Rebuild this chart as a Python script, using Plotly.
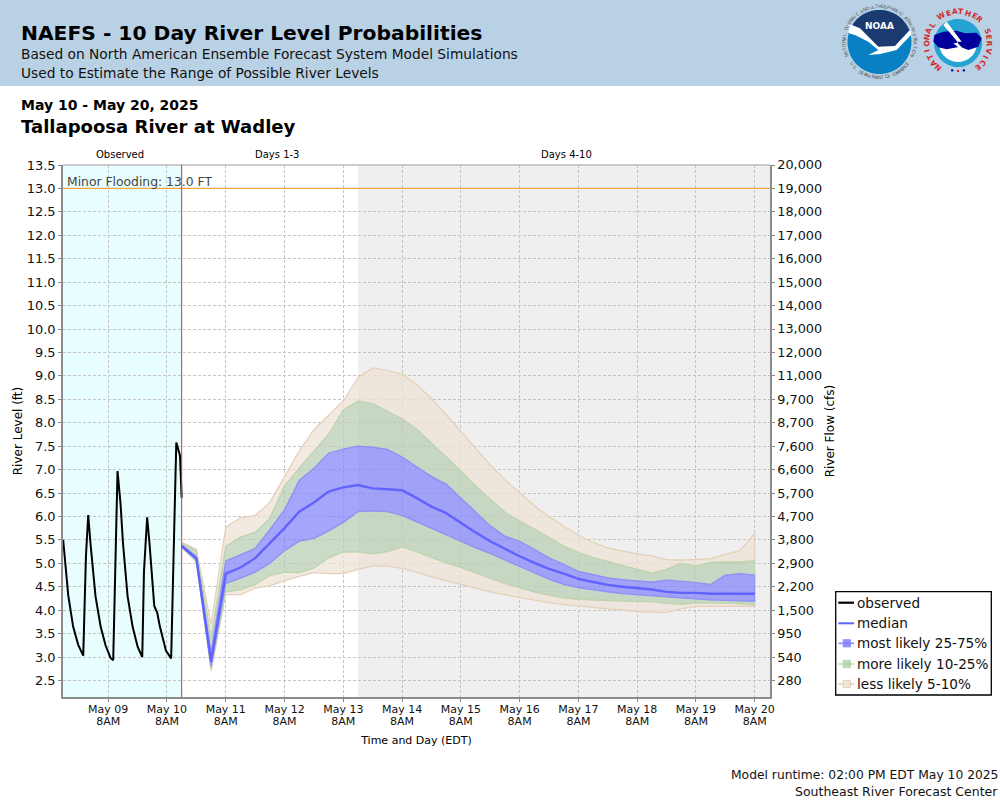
import math
import pandas as pd
import plotly.graph_objects as go

# ---------- data ----------
obs_times = ["2025-05-08 13:36","2025-05-08 15:40","2025-05-08 17:40","2025-05-08 19:45","2025-05-08 21:48",
             "2025-05-08 22:54","2025-05-08 23:50","2025-05-09 00:48","2025-05-09 02:48","2025-05-09 04:54",
             "2025-05-09 06:54","2025-05-09 08:57","2025-05-09 10:02","2025-05-09 11:00","2025-05-09 11:48",
             "2025-05-09 13:02","2025-05-09 14:00","2025-05-09 15:54","2025-05-09 17:57","2025-05-09 20:00",
             "2025-05-09 21:54","2025-05-09 22:36","2025-05-09 23:54","2025-05-10 00:54","2025-05-10 02:48",
             "2025-05-10 04:00","2025-05-10 05:06","2025-05-10 07:36","2025-05-10 09:42","2025-05-10 11:00",
             "2025-05-10 11:48","2025-05-10 13:18","2025-05-10 14:00"]
obs_level = [5.5,4.32,3.65,3.26,3.03,5.15,6.03,5.4,4.3,3.65,3.25,2.98,2.93,5.3,6.97,6.27,5.45,4.3,3.65,3.22,
             3.0,4.82,5.98,5.4,4.09,3.95,3.65,3.13,2.97,5.84,7.58,7.3,6.4]

fc_times = pd.date_range("2025-05-10 14:00", periods=40, freq="6h").strftime("%Y-%m-%d %H:%M").tolist()
p95 = [5.45,5.3,3.7,5.77,5.97,6.02,6.3,6.85,7.4,7.85,8.17,8.47,8.96,9.17,9.12,9.04,8.81,8.52,8.17,7.82,7.46,7.1,
       6.78,6.5,6.23,6.0,5.79,5.6,5.45,5.33,5.26,5.2,5.16,5.08,5.07,5.08,5.1,5.19,5.27,5.64]
p90 = [5.42,5.27,3.4,5.36,5.56,5.66,5.96,6.65,7.03,7.4,7.75,8.27,8.46,8.41,8.25,8.08,7.86,7.57,7.27,6.97,6.65,6.36,
       6.09,5.9,5.73,5.55,5.37,5.23,5.12,5.03,4.95,4.87,4.79,4.87,5.0,4.94,5.02,5.03,5.03,5.05]
p75 = [5.39,5.15,3.1,5.05,5.18,5.32,5.72,6.14,6.77,7.03,7.35,7.44,7.5,7.48,7.43,7.27,7.06,6.85,6.69,6.39,6.1,5.8,
       5.58,5.47,5.3,5.12,4.98,4.83,4.76,4.69,4.65,4.62,4.6,4.64,4.62,4.59,4.55,4.75,4.78,4.75]
p50 = [5.37,5.1,2.9,4.78,4.91,5.11,5.43,5.75,6.1,6.3,6.53,6.62,6.67,6.6,6.58,6.56,6.39,6.21,6.07,5.86,5.66,5.47,
       5.31,5.15,5.01,4.88,4.78,4.67,4.6,4.54,4.5,4.47,4.44,4.39,4.37,4.37,4.35,4.35,4.35,4.35]
p25 = [5.35,5.08,2.8,4.57,4.68,4.81,5.0,5.27,5.47,5.53,5.69,5.87,6.1,6.12,6.1,6.02,5.89,5.75,5.61,5.47,5.33,5.21,
       5.07,4.93,4.8,4.66,4.55,4.48,4.43,4.39,4.35,4.33,4.3,4.28,4.26,4.24,4.22,4.2,4.2,4.19]
p10 = [5.34,5.05,2.75,4.39,4.44,4.55,4.74,4.81,4.8,4.9,5.12,5.24,5.25,5.2,5.25,5.35,5.25,5.13,5.01,4.91,4.8,4.68,
       4.57,4.48,4.39,4.32,4.26,4.23,4.22,4.21,4.19,4.18,4.18,4.15,4.13,4.15,4.16,4.15,4.14,4.11]
p05 = [5.33,5.03,2.7,4.33,4.33,4.47,4.52,4.63,4.72,4.8,4.78,4.78,4.87,4.94,4.94,4.89,4.81,4.71,4.62,4.55,4.47,4.39,
       4.33,4.27,4.21,4.16,4.12,4.08,4.05,4.03,4.0,3.97,3.96,3.95,4.03,4.08,4.08,4.08,4.08,4.08]

level_ticks = [2.5,3.0,3.5,4.0,4.5,5.0,5.5,6.0,6.5,7.0,7.5,8.0,8.5,9.0,9.5,10.0,10.5,11.0,11.5,12.0,12.5,13.0,13.5]
flow_labels = ["280","540","950","1,500","2,200","2,900","3,800","4,700","5,700","6,600","7,600","8,700","9,700",
               "11,000","12,000","13,000","14,000","15,000","16,000","17,000","18,000","19,000","20,000"]
day_ticks = ["2025-05-%02d 08:00" % d for d in range(9, 21)]
day_names = ["May %02d" % d for d in range(9, 21)]

# ---------- styling ----------
FONT = "DejaVu Sans"
W, H = 1000, 800
L, R, T, B = 63, 770, 165, 697
X_RANGE = ["2025-05-08 13:32", "2025-05-20 14:15"]
Y_RANGE = [2.147, 13.5]
NOW = "2025-05-10 14:00"
DAY4 = "2025-05-13 14:00"
TAN, TAN_L = "rgba(238,227,214,0.75)", "rgba(228,205,180,0.95)"
GRN, GRN_L = "rgba(187,207,180,0.75)", "rgba(185,215,175,0.95)"
BLU, BLU_L = "rgba(135,135,250,0.75)", "rgba(140,140,255,0.95)"
MED = "#6262FF"


def px(x):
    return (x - L) / (R - L)


def py(y):
    return (B - y) / (B - T)


fig = go.Figure()


def band(upper, lower, fill, line):
    fig.add_trace(go.Scatter(x=fc_times + fc_times[::-1], y=upper + lower[::-1], mode="lines", fill="toself",
                             fillcolor=fill, line=dict(color=line, width=1.2), showlegend=False, hoverinfo="skip"))


band(p95, p90, TAN, TAN_L)
band(p10, p05, TAN, TAN_L)
band(p90, p75, GRN, GRN_L)
band(p25, p10, GRN, GRN_L)
band(p75, p25, BLU, BLU_L)

fig.add_trace(go.Scatter(x=fc_times, y=p50, mode="lines", name="median", showlegend=False,
                         line=dict(color=MED, width=2.4)))
fig.add_trace(go.Scatter(x=obs_times, y=obs_level, mode="lines", name="observed", showlegend=False,
                         line=dict(color="#000000", width=2)))
# right-hand axis carrier
fig.add_trace(go.Scatter(x=[NOW], y=[13], yaxis="y2", mode="lines", showlegend=False, hoverinfo="skip",
                         line=dict(width=0)))

shapes = [
    dict(type="rect", xref="paper", yref="paper", x0=px(0), x1=px(1000), y0=py(0), y1=py(86),
         fillcolor="#B9D1E4", line_width=0, layer="below"),
    dict(type="rect", xref="x", yref="paper", x0=X_RANGE[0], x1=NOW, y0=0, y1=1,
         fillcolor="#E8FEFE", line_width=0, layer="below"),
    dict(type="rect", xref="x", yref="paper", x0=DAY4, x1=X_RANGE[1], y0=0, y1=1,
         fillcolor="#EFEFEF", line_width=0, layer="below"),
    dict(type="line", xref="paper", yref="paper", x0=0, x1=1, y0=1, y1=1, line=dict(color="#BBBBBB", width=1.5)),
    dict(type="line", xref="paper", yref="y", x0=0, x1=1, y0=13, y1=13, line=dict(color="#F7A540", width=1.3)),
    dict(type="line", xref="x", yref="paper", x0=NOW, x1=NOW, y0=0, y1=1, line=dict(color="#E03030", width=1)),
]


def text(x, y, s, size, color="#000000", bold=False, anchor="left", angle=0):
    fig.add_annotation(xref="paper", yref="paper", x=px(x), y=py(y), text=("<b>%s</b>" % s) if bold else s,
                       showarrow=False, xanchor=anchor, yanchor="middle", textangle=angle,
                       font=dict(family=FONT, size=size, color=color), borderpad=0, borderwidth=0)


text(21, 33, "NAEFS - 10 Day River Level Probabilities", 20.25, bold=True)
text(21, 54, "Based on North American Ensemble Forecast System Model Simulations", 13.75, color="#111111")
text(21, 73, "Used to Estimate the Range of Possible River Levels", 13.75, color="#111111")
text(21, 105, "May 10 - May 20, 2025", 14, bold=True)
text(21, 126, "Tallapoosa River at Wadley", 18.05, bold=True)
text(119.5, 154, "Observed", 10, anchor="center")
text(276.5, 154, "Days 1-3", 10, anchor="center")
text(566, 154, "Days 4-10", 10, anchor="center")
text(67, 182, "Minor Flooding: 13.0 FT", 12.35, color="#444444")
text(998, 775, "Model runtime: 02:00 PM EDT May 10 2025", 12.3, anchor="right", color="#111111")
text(998, 791, "Southeast River Forecast Center", 12.5, anchor="right", color="#111111")


# ---------- logos ----------
def poly(points, fill):
    d = "M " + " L ".join("%.5f,%.5f" % (px(a), py(b)) for a, b in points) + " Z"
    shapes.append(dict(type="path", xref="paper", yref="paper", path=d, fillcolor=fill, line_width=0))


def circle(cx, cy, r, fill):
    poly([(cx + r * math.cos(t / 36 * math.pi), cy + r * math.sin(t / 36 * math.pi)) for t in range(72)], fill)


def ring(s, cx, cy, r, a0, a1, size, color, bold=False, bottom=False):
    n = len(s)
    for i, ch in enumerate(s):
        if ch == " ":
            continue
        a = a0 + (a1 - a0) * i / (n - 1)
        t = math.radians(a)
        text(cx + r * math.sin(t), cy - r * math.cos(t), ch, size, color=color, bold=bold, anchor="center",
             angle=(a - 180) if bottom else a)


def zoomed(points):
    return [(800 + a / 3, b / 3) for a, b in points]


NX, NY, NR = 879.5, 42, 32
circle(NX, NY, NR, "#0A80C4")
arc = [(NX + NR * math.cos(math.radians(a)), NY + NR * math.sin(math.radians(a))) for a in range(-165, -10, 5)]
poly(arc + zoomed([(330, 88), (285, 138), (235, 142), (215, 120), (180, 88)]), "#1B3A6F")
poly(zoomed([(148, 72), (180, 85), (215, 120), (235, 140), (285, 138), (332, 88), (333, 105), (290, 150), (240, 162),
             (205, 165), (235, 150), (205, 125), (165, 105), (146, 100)]), "#FFFFFF")
text(NX, 26, "NOAA", 9, color="#FFFFFF", bold=True, anchor="center")
ring("NATIONAL OCEANIC AND ATMOSPHERIC ADMINISTRATION", NX, NY, 35.5, -112, 112, 4.6, "#555555")
ring("U.S. DEPARTMENT OF COMMERCE", NX, NY, 35.5, 232, 128, 4.6, "#555555", bottom=True)

SX, SY = 958, 43
circle(SX, SY, 24, "#25A3D3")
poly([(SX + 19 * math.cos(math.radians(a)), SY + 19 * math.sin(math.radians(a))) for a in range(0, 185, 10)], "#FFFFFF")
poly(zoomed([(403, 105), (430, 95), (470, 92), (495, 100), (530, 98), (545, 115), (535, 140), (505, 150), (480, 140),
             (440, 148), (415, 142), (400, 125)]), "#00009A")
poly(zoomed([(440, 65), (485, 125), (470, 125), (510, 170), (460, 130), (475, 128), (430, 75)]), "#FFFFFF")
ring("NATIONAL WEATHER SERVICE", SX, SY, 31.5, -141, 141, 7.5, "#D42A2A", bold=True)
for a, c in [(-12, "#00009A"), (0, "#D42A2A"), (12, "#00009A")]:
    t = math.radians(a)
    circle(SX + 28 * math.sin(t), SY + 28 * math.cos(t), 1.2, c)

# ---------- legend box ----------
shapes.append(dict(type="rect", xref="paper", yref="paper", x0=px(835.7), x1=px(991.3), y0=py(591.7), y1=py(695),
                   fillcolor="white", line=dict(color="#000000", width=1.3)))
legend_rows = [("observed", 602.7, "#000000", None, 2.2),
               ("median", 623.3, MED, None, 2),
               ("most likely 25-75%", 643.3, BLU_L, "rgba(120,120,250,0.8)", 1.6),
               ("more likely 10-25%", 664, GRN_L, "rgba(178,208,170,0.85)", 1.6),
               ("less likely 5-10%", 684, TAN_L, "rgba(238,227,214,0.9)", 1.6)]
for label, y, lcol, fcol, lw in legend_rows:
    shapes.append(dict(type="line", xref="paper", yref="paper", x0=px(838.3), x1=px(854), y0=py(y), y1=py(y),
                       line=dict(color=lcol, width=lw)))
    if fcol:
        shapes.append(dict(type="rect", xref="paper", yref="paper", x0=px(843.2), x1=px(850.4), y0=py(y - 3.6),
                           y1=py(y + 3.6), fillcolor=fcol, line=dict(color=lcol, width=1)))
    text(857.3, y, label, 13.6, color="#111111")

# ---------- layout ----------
grid = dict(showgrid=True, gridcolor="#C4C4C4", griddash="3px,2px", gridwidth=1)
fig.update_layout(
    width=W, height=H, autosize=False, paper_bgcolor="white", plot_bgcolor="white", showlegend=False,
    margin=dict(l=L, r=W - R, t=T, b=H - B, pad=0, autoexpand=False),
    font=dict(family=FONT, size=12, color="#000000"),
    shapes=shapes,
    xaxis=dict(type="date", range=X_RANGE, tickmode="array", tickvals=day_ticks,
               ticktext=['<span style="font-size:11px">%s</span><br><span style="font-size:11px">8AM</span>' % n
                         for n in day_names],
               tickangle=0, tickfont=dict(size=9.2, color="#111111"), ticks="outside", ticklen=3, tickcolor="#888888",
               showline=True, linecolor="#8C8C8C", linewidth=1.5, zeroline=False,
               title=dict(text="Time and Day (EDT)", font=dict(size=11), standoff=10), **grid),
    yaxis=dict(range=Y_RANGE, tickmode="array", tickvals=level_ticks, ticktext=["%.1f" % v for v in level_ticks],
               tickfont=dict(size=13, color="#111111"), ticks="outside", ticklen=3, tickcolor="#888888",
               showline=True, linecolor="#8C8C8C", linewidth=1.5, zeroline=False,
               title=dict(text="River Level (ft)", font=dict(size=12), standoff=1), **grid),
    yaxis2=dict(range=Y_RANGE, overlaying="y", side="right", tickmode="array", tickvals=level_ticks,
                ticktext=flow_labels, tickfont=dict(size=12.8, color="#111111"), ticks="outside", ticklen=3,
                tickcolor="#888888", showline=True, linecolor="#8C8C8C", linewidth=1.5, zeroline=False,
                showgrid=False, title=dict(text="River Flow (cfs)", font=dict(size=12), standoff=5)),
)

fig.write_html("out.html", config={"displayModeBar": False},
               post_script="document.body.style.margin='0';document.body.style.overflow='hidden';")
